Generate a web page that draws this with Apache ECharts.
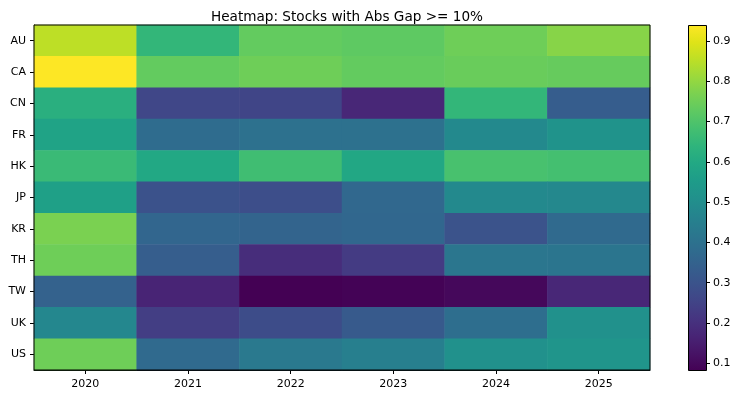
<!DOCTYPE html>
<html><head><meta charset="utf-8">
<script src="https://cdn.jsdelivr.net/npm/echarts@6/dist/echarts.min.js"></script>
<style>html,body{margin:0;padding:0;background:#fff}#c{width:740px;height:399px}</style>
</head><body><div id="c"></div>
<script>
const years = ['2020','2021','2022','2023','2024','2025'];
const countries = ['AU','CA','CN','FR','HK','JP','KR','TH','TW','UK','US'];
const AU = [0.854, 0.649, 0.734, 0.726, 0.750, 0.786];
const CA = [0.940, 0.734, 0.751, 0.734, 0.743, 0.738];
const CN = [0.623, 0.263, 0.258, 0.177, 0.649, 0.332];
const FR = [0.580, 0.383, 0.400, 0.402, 0.486, 0.520];
const HK = [0.662, 0.597, 0.674, 0.595, 0.690, 0.683];
const JP = [0.570, 0.297, 0.284, 0.370, 0.486, 0.482];
const KR = [0.769, 0.362, 0.357, 0.366, 0.300, 0.378];
const TH = [0.750, 0.336, 0.194, 0.229, 0.420, 0.415];
const TW = [0.349, 0.169, 0.083, 0.087, 0.100, 0.177];
const UK = [0.477, 0.237, 0.280, 0.323, 0.390, 0.510];
const US = [0.750, 0.375, 0.430, 0.450, 0.510, 0.528];
const rows = [AU, CA, CN, FR, HK, JP, KR, TH, TW, UK, US];
const cbTicks = [0.1, 0.2, 0.3, 0.4, 0.5, 0.6, 0.7, 0.8, 0.9];

const viridis = ['#440154','#471365','#482475','#463480','#414487','#3b528b','#355f8d','#2f6c8e','#2a788e','#25848e','#21918c','#1e9c89','#22a884','#2fb47c','#44bf70','#5ec962','#7ad151','#9bd93c','#bddf26','#dfe318','#fde725'];

const data = [];
rows.forEach((r, yi) => r.forEach((v, xi) => data.push([xi, yi, v])));
const all = rows.flat();
const vmin = Math.min(...all), vmax = Math.max(...all);

const font = 'DejaVu Sans';
const chart = echarts.init(document.getElementById('c'), null, {renderer: 'canvas'});
const cbL = 688, cbT = 25, cbW = 18, cbH = 345;
chart.setOption({
  animation: false,
  backgroundColor: '#fff',
  title: {text: 'Heatmap: Stocks with Abs Gap >= 10%', left: 342, top: 5, textAlign: 'center',
    textStyle: {fontFamily: font, fontSize: 13.6, fontWeight: 'normal', color: '#000'}},
  grid: [
    {left: 34, right: 90, top: 25, bottom: 29, show: true, borderColor: '#000', borderWidth: 1, z: 10},
    {left: cbL, width: cbW, top: cbT, height: cbH, show: false}
  ],
  xAxis: [
    {type: 'category', data: years, gridIndex: 0,
     axisLine: {show: true, lineStyle: {color: '#000'}},
     axisTick: {show: true, alignWithLabel: true, length: 4, lineStyle: {color: '#000'}},
     axisLabel: {fontFamily: font, fontSize: 11, color: '#000', margin: 9},
     splitLine: {show: false}, splitArea: {show: false}},
    {type: 'category', data: ['c'], gridIndex: 1, show: false}
  ],
  yAxis: [
    {type: 'category', data: countries, inverse: true, gridIndex: 0,
     axisLine: {show: true, lineStyle: {color: '#000'}},
     axisTick: {show: true, alignWithLabel: true, length: 4, lineStyle: {color: '#000'}},
     axisLabel: {fontFamily: font, fontSize: 11, color: '#000', margin: 8},
     splitLine: {show: false}, splitArea: {show: false}},
    {type: 'value', gridIndex: 1, min: vmin, max: vmax, position: 'right',
     axisLine: {show: false},
     axisTick: {show: true, length: 4, customValues: cbTicks, lineStyle: {color: '#000'}},
     axisLabel: {fontFamily: font, fontSize: 11, color: '#000', margin: 7, customValues: cbTicks,
       formatter: v => (Math.round(v * 10) / 10).toFixed(1)},
     splitLine: {show: false}}
  ],
  visualMap: {show: false, min: vmin, max: vmax, seriesIndex: 0, inRange: {color: viridis}},
  graphic: [{
    type: 'rect', left: cbL, top: cbT, z: 5,
    shape: {width: cbW, height: cbH},
    style: {
      fill: {type: 'linear', x: 0, y: 1, x2: 0, y2: 0,
        colorStops: viridis.map((c, i) => ({offset: i / (viridis.length - 1), color: c}))},
      stroke: '#000', lineWidth: 1
    }
  }],
  series: [{
    type: 'heatmap', xAxisIndex: 0, yAxisIndex: 0, data: data,
    itemStyle: {borderWidth: 0}, emphasis: {disabled: true}, progressive: 0
  }]
});
</script></body></html>
